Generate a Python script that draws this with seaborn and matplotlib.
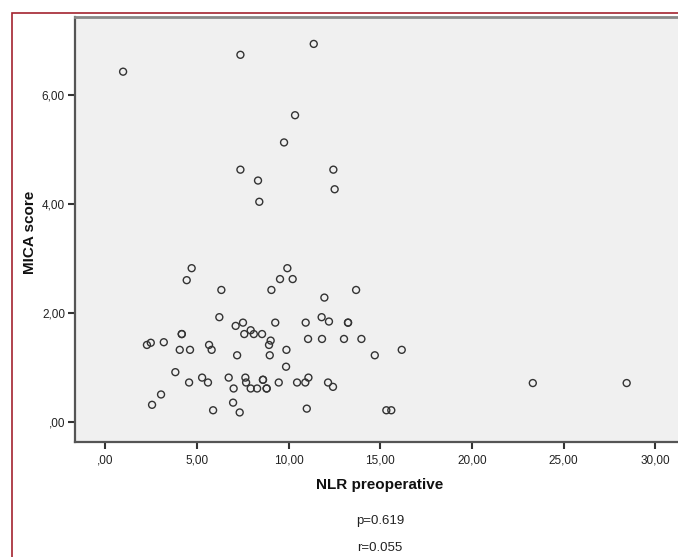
import matplotlib
matplotlib.use("Agg")
import matplotlib.pyplot as plt
import matplotlib.patches as mpatches
import seaborn as sns
import pandas as pd

# NLR preoperative (x) and MICA score (y)
nlr = [0.97, 7.37, 11.37, 10.35, 9.75, 7.37, 8.33, 8.40, 12.44, 12.51,
       4.71, 4.44, 6.33, 9.93, 9.53, 10.22, 9.06, 11.95, 13.68, 6.22,
       7.11, 7.51, 9.27, 10.93, 11.80, 12.20, 13.24, 13.24, 7.93, 7.58,
       8.10, 8.55, 4.17, 4.17, 2.27, 2.48, 3.19, 4.06, 4.62, 5.66,
       5.80, 9.02, 8.93, 9.88, 11.06, 11.82, 13.02, 13.97, 14.70, 7.19,
       8.97, 9.86, 3.82, 5.28, 4.57, 5.60, 6.73, 7.64, 7.68, 7.00,
       7.93, 8.28, 8.60, 8.60, 8.80, 8.80, 9.46, 10.46, 10.91, 11.08,
       12.15, 12.42, 3.04, 2.55, 6.97, 5.88, 7.33, 10.99, 16.17, 15.33,
       15.60, 23.32, 28.44]
mica = [6.43, 6.74, 6.94, 5.63, 5.13, 4.63, 4.43, 4.04, 4.63, 4.27,
        2.82, 2.60, 2.42, 2.82, 2.62, 2.62, 2.42, 2.28, 2.42, 1.92,
        1.76, 1.82, 1.82, 1.82, 1.92, 1.84, 1.82, 1.82, 1.68, 1.61,
        1.61, 1.61, 1.61, 1.61, 1.41, 1.45, 1.46, 1.32, 1.32, 1.41,
        1.32, 1.49, 1.41, 1.32, 1.52, 1.52, 1.52, 1.52, 1.22, 1.22,
        1.22, 1.01, 0.91, 0.81, 0.72, 0.72, 0.81, 0.81, 0.72, 0.61,
        0.61, 0.61, 0.77, 0.77, 0.61, 0.61, 0.72, 0.72, 0.72, 0.81,
        0.72, 0.64, 0.50, 0.31, 0.35, 0.21, 0.17, 0.24, 1.32, 0.21,
        0.21, 0.71, 0.71]

x_ticks = [0, 5, 10, 15, 20, 25, 30]
x_tick_labels = [",00", "5,00", "10,00", "15,00", "20,00", "25,00", "30,00"]
y_ticks = [0, 2, 4, 6]
y_tick_labels = [",00", "2,00", "4,00", "6,00"]

x_title = "NLR preoperative"
y_title = "MICA score"
p_text = "p=0.619"
r_text = "r=0.055"

df = pd.DataFrame({"NLR preoperative": nlr, "MICA score": mica})

sns.set_style("white")
plt.rcParams["font.family"] = ["Liberation Sans", "DejaVu Sans"]

W, H = 678, 557
fig = plt.figure(figsize=(W / 100, H / 100), dpi=100)
fig.patch.set_facecolor("white")

left_px, top_px, bottom_px = 74.7, 16.7, 442.0
ax = fig.add_axes([left_px / W, 1 - bottom_px / H,
                   1 - left_px / W, (bottom_px - top_px) / H])
ax.set_facecolor("#F0F0F0")

sns.scatterplot(data=df, x="NLR preoperative", y="MICA score", ax=ax,
                s=25, facecolors="none", edgecolor="#333333",
                linewidth=1.0, marker="o", legend=False)
for coll in ax.collections:
    coll.set_facecolor("none")
    coll.set_edgecolor("#333333")

ax.set_xlim(-1.67, 31.24)
ax.set_ylim(-0.373, 7.44)
ax.set_xticks(x_ticks)
ax.set_xticklabels(x_tick_labels)
ax.set_yticks(y_ticks)
ax.set_yticklabels(y_tick_labels)
ax.tick_params(axis="both", direction="out", length=5, width=1.5,
               color="#333333", labelsize=8.5, labelcolor="#222222", pad=2,
               left=True, bottom=True)
ax.tick_params(axis="x", pad=4)

for side in ["left", "bottom"]:
    ax.spines[side].set_color("#555555")
    ax.spines[side].set_linewidth(1.6)
ax.spines["top"].set_color("#888888")
ax.spines["top"].set_linewidth(2.0)
ax.spines["right"].set_visible(False)

ax.set_xlabel("")
ax.set_ylabel("")

fig.text(380 / W, 1 - 485 / H, x_title, ha="center", va="center",
         fontsize=11, fontweight="bold", color="#111111")
fig.text(30 / W, 1 - 232 / H, y_title, ha="center", va="center",
         rotation=90, fontsize=11, fontweight="bold", color="#111111")
fig.text(380 / W, 1 - 521 / H, p_text, ha="center", va="center",
         fontsize=9.5, color="#222222")
fig.text(380 / W, 1 - 548 / H, r_text, ha="center", va="center",
         fontsize=9.5, color="#222222")

# red outer frame (extends beyond the picture on right and bottom)
rect = mpatches.Rectangle((12 / W, -0.2), 1.2, 1.2 - 12.7 / H,
                          transform=fig.transFigure, fill=False,
                          edgecolor="#A3232F", linewidth=1.2, clip_on=False)
fig.patches.append(rect)

fig.savefig("out.png", dpi=100)
